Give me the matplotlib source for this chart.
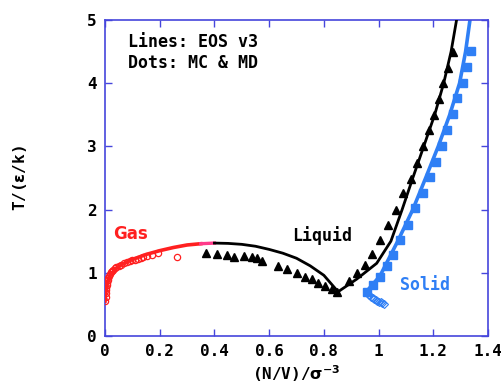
import matplotlib
matplotlib.use("Agg")
import matplotlib.pyplot as plt

# EOS lines
gas_x = [0.0, 0.002, 0.005, 0.01, 0.02, 0.04, 0.07, 0.1, 0.15, 0.2, 0.25, 0.3, 0.35]
gas_T = [0.55, 0.65, 0.76, 0.86, 0.97, 1.07, 1.15, 1.21, 1.29, 1.35, 1.40, 1.44, 1.46]
mid_x = [0.35, 0.40]
mid_T = [1.46, 1.47]
liq_x = [0.40, 0.45, 0.5, 0.55, 0.6, 0.65, 0.7, 0.75, 0.8, 0.852]
liq_T = [1.47, 1.465, 1.45, 1.42, 1.37, 1.31, 1.23, 1.11, 0.96, 0.70]
fre_x = [0.852, 0.92, 0.993, 1.045, 1.086, 1.125, 1.165, 1.205, 1.238, 1.265, 1.285]
fre_T = [0.70, 0.90, 1.15, 1.5, 2.0, 2.5, 3.0, 3.5, 4.0, 4.5, 5.0]
sol_x = [0.955, 1.005, 1.07, 1.125, 1.172, 1.218, 1.26, 1.296, 1.318, 1.334]
sol_T = [0.70, 0.95, 1.5, 2.0, 2.5, 3.0, 3.5, 4.0, 4.5, 5.0]

# simulation dots
gas_dx = [0.001, 0.002, 0.003, 0.004, 0.005, 0.006, 0.008, 0.01, 0.012, 0.015, 0.018,
          0.022, 0.026, 0.03, 0.035, 0.04, 0.05, 0.06, 0.07, 0.08, 0.09, 0.1, 0.11,
          0.12, 0.13, 0.14, 0.155, 0.17, 0.195, 0.262]
gas_dT = [0.56, 0.62, 0.68, 0.72, 0.76, 0.80, 0.84, 0.88, 0.91, 0.95, 0.98,
          1.01, 1.03, 1.05, 1.07, 1.09, 1.11, 1.13, 1.15, 1.17, 1.18, 1.20, 1.21,
          1.22, 1.24, 1.25, 1.27, 1.28, 1.32, 1.255]
liq_dx = [0.369, 0.408, 0.445, 0.471, 0.508, 0.536, 0.554, 0.573, 0.634, 0.664,
          0.70, 0.731, 0.755, 0.78, 0.804, 0.829, 0.847]
liq_dT = [1.31, 1.30, 1.28, 1.255, 1.266, 1.245, 1.23, 1.19, 1.11, 1.06,
          0.99, 0.94, 0.90, 0.84, 0.79, 0.74, 0.70]
fre_dx = [0.893, 0.92, 0.95, 0.977, 1.005, 1.035, 1.064, 1.09, 1.118, 1.142,
          1.164, 1.185, 1.202, 1.222, 1.237, 1.255, 1.273]
fre_dT = [0.875, 0.99, 1.12, 1.30, 1.52, 1.76, 2.0, 2.26, 2.49, 2.74,
          3.01, 3.26, 3.50, 3.75, 4.0, 4.24, 4.50]
sol_dx = [0.956, 0.98, 1.005, 1.03, 1.054, 1.078, 1.109, 1.133, 1.162, 1.188,
          1.21, 1.231, 1.251, 1.271, 1.288, 1.307, 1.322, 1.336]
sol_dT = [0.70, 0.81, 0.94, 1.10, 1.28, 1.52, 1.76, 2.02, 2.26, 2.51,
          2.75, 3.01, 3.26, 3.51, 3.76, 4.01, 4.26, 4.51]
low_x = [0.958, 0.965, 0.972, 0.978, 0.984, 0.99, 0.996, 1.002, 1.008, 1.014, 1.019]
low_T = [0.68, 0.65, 0.62, 0.60, 0.58, 0.57, 0.55, 0.54, 0.53, 0.52, 0.50]

axcol = "#4646dc"
red = "#ff2020"
blue = "#2f7ff5"

fig = plt.figure(figsize=(5.01, 3.92), dpi=100)
ax = fig.add_axes([0.2096, 0.1429, 0.7645, 0.8061])

ax.plot(sol_x, sol_T, color=blue, lw=2.6, zorder=2)
ax.plot(sol_dx, sol_dT, "s", color=blue, ms=6, zorder=3)
ax.plot(low_x, low_T, "D", mfc="none", mec=blue, ms=4, mew=0.8, zorder=3)
ax.plot(gas_x, gas_T, color=red, lw=2.6, zorder=3)
ax.plot(gas_dx, gas_dT, "o", mfc="none", mec=red, ms=4.5, mew=0.9, zorder=4)
ax.plot(mid_x, mid_T, color="#ff3a8a", lw=2.4, zorder=4)
ax.plot(liq_x, liq_T, color="black", lw=2.0, zorder=4)
ax.plot(fre_x, fre_T, color="black", lw=2.0, zorder=4)
ax.plot(liq_dx, liq_dT, "^", color="black", ms=6, zorder=3)
ax.plot(fre_dx, fre_dT, "^", color="black", ms=6, zorder=3)

ax.set_xlim(0, 1.4)
ax.set_ylim(0, 5)
ax.set_xticks([0, 0.2, 0.4, 0.6, 0.8, 1, 1.2, 1.4])
ax.set_xticklabels(["0", "0.2", "0.4", "0.6", "0.8", "1", "1.2", "1.4"])
ax.set_yticks([0, 1, 2, 3, 4, 5])
for s in ax.spines.values():
    s.set_color(axcol)
    s.set_linewidth(1.2)
ax.tick_params(direction="in", length=5, width=1, colors=axcol,
               top=True, right=True, labelcolor="black", pad=6)
for lab in ax.get_xticklabels() + ax.get_yticklabels():
    lab.set_family("DejaVu Sans Mono")
    lab.set_fontweight("bold")
    lab.set_fontsize(11.5)

ax.set_xlabel(r"(N/V)/$\mathbf{\sigma^{-3}}$", fontsize=11.5, fontweight="bold",
              family="DejaVu Sans Mono", labelpad=3)
ax.set_ylabel(r"T/($\mathbf{\varepsilon}$/k)", fontsize=11.5, fontweight="bold",
              family="DejaVu Sans Mono", labelpad=42)

ax.text(0.085, 4.49, "Lines: EOS v3\nDots: MC & MD", fontsize=12, fontweight="bold",
        family="DejaVu Sans Mono", va="center", linespacing=1.2)
ax.text(0.03, 1.61, "Gas", color=red, fontsize=12, fontweight="bold", va="center")
ax.text(0.685, 1.59, "Liquid", color="black", fontsize=12, fontweight="bold",
        family="DejaVu Sans Mono", va="center")
ax.text(1.08, 0.80, "Solid", color=blue, fontsize=12, fontweight="bold",
        family="DejaVu Sans Mono", va="center")

fig.savefig("out.png", dpi=100)
